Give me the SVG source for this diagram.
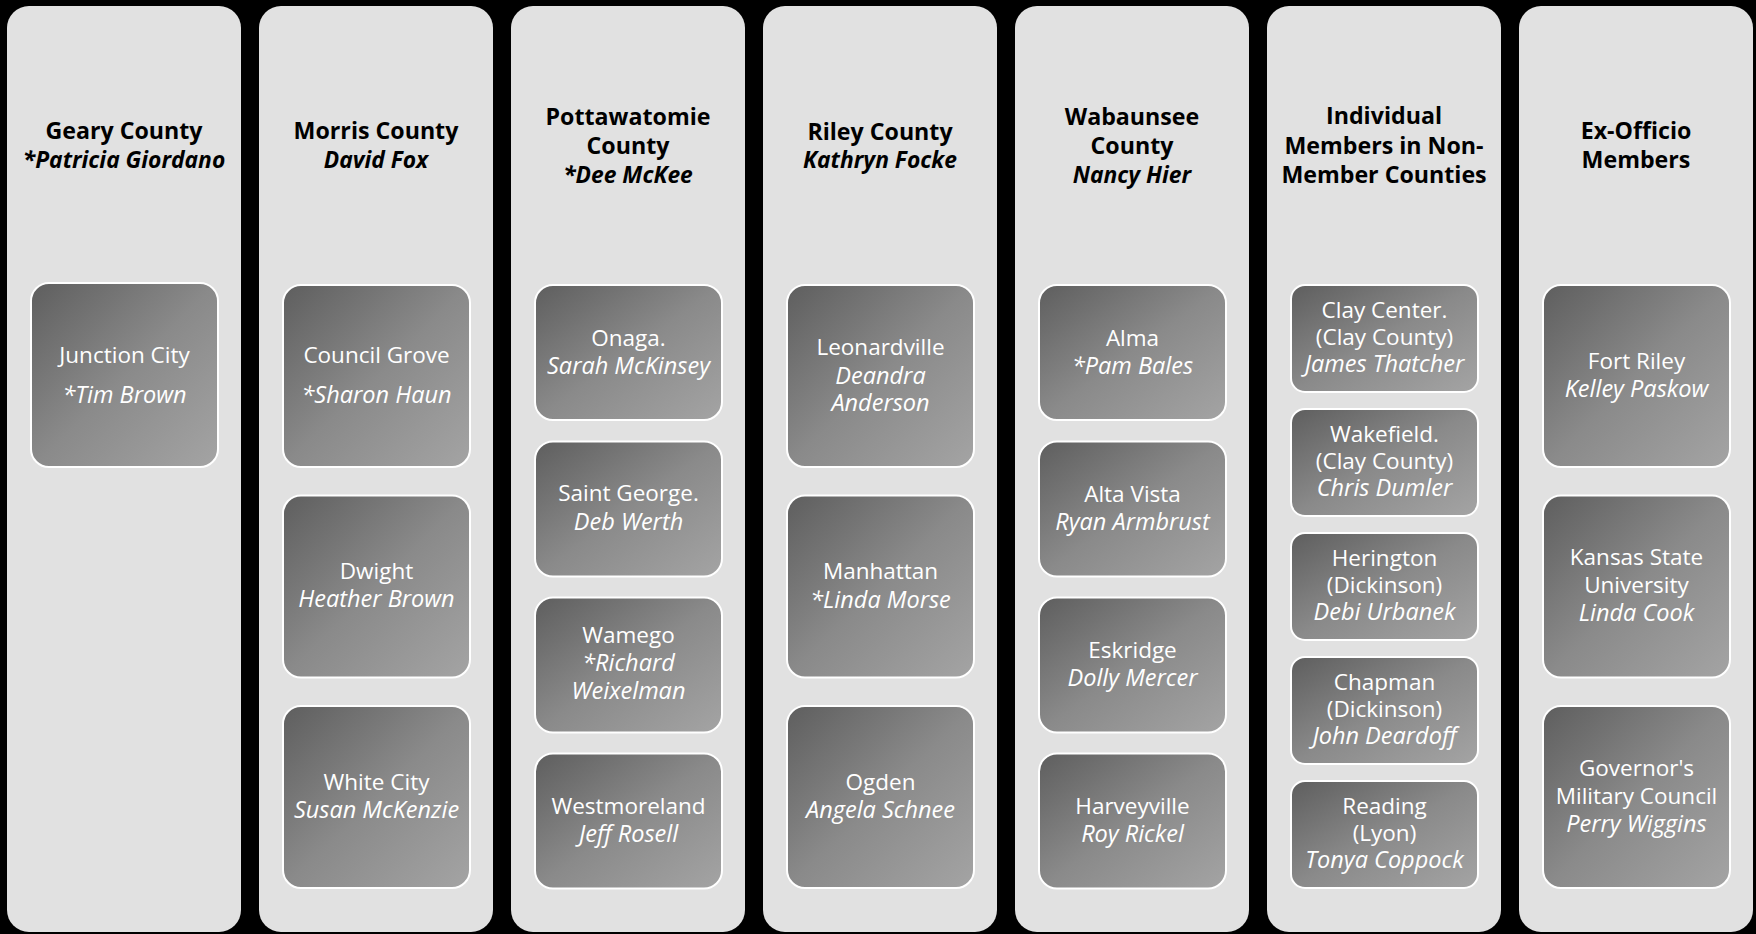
<svg xmlns="http://www.w3.org/2000/svg" width="1756" height="934" viewBox="0 0 1756 934">
<defs>
<linearGradient id="g" x1="0" y1="0" x2="1" y2="1">
<stop offset="0" stop-color="#5e5e5e"/>
<stop offset="0.5" stop-color="#8a8a8a"/>
<stop offset="1" stop-color="#a4a4a4"/>
</linearGradient>
</defs>
<style>
.col{fill:#e1e1e1}
.box{fill:url(#g);stroke:#ffffff;stroke-width:2}
.h{font-family:"Open Sans","Noto Sans",sans-serif;font-size:23.2px;font-weight:bold;fill:#000;text-anchor:middle}
.h.i{font-size:22.8px}
.t{font-family:"Open Sans","Noto Sans",sans-serif;font-size:22.5px;fill:#fff;text-anchor:middle}
.i{font-style:italic}
.t.i{font-size:23.5px}
</style>
<rect width="1756" height="934" fill="#000"/>

<g id="geary">
<rect class="col" x="7" y="6" width="234" height="926" rx="22"/>
<text class="h" x="124" y="139">Geary County</text>
<text class="h i" x="124" y="168">*Patricia Giordano</text>
<g id="junction-city">
<rect class="box" x="31" y="283" width="187" height="184" rx="18"/>
<text class="t" x="124.5" y="363">Junction City</text>
<text class="t i" x="124.5" y="403">*Tim Brown</text>
</g>
</g>

<g id="morris">
<rect class="col" x="259" y="6" width="234" height="926" rx="22"/>
<text class="h" x="376" y="139">Morris County</text>
<text class="h i" x="376" y="168">David Fox</text>
<g id="council-grove">
<rect class="box" x="283" y="285" width="187" height="182" rx="18"/>
<text class="t" x="376.5" y="363">Council Grove</text>
<text class="t i" x="376.5" y="403">*Sharon Haun</text>
</g>
<g id="dwight">
<rect class="box" x="283" y="495.5" width="187" height="182" rx="18"/>
<text class="t" x="376.5" y="579">Dwight</text>
<text class="t i" x="376.5" y="607">Heather Brown</text>
</g>
<g id="white-city">
<rect class="box" x="283" y="706" width="187" height="182" rx="18"/>
<text class="t" x="376.5" y="790">White City</text>
<text class="t i" x="376.5" y="818">Susan McKenzie</text>
</g>
</g>

<g id="pottawatomie">
<rect class="col" x="511" y="6" width="234" height="926" rx="22"/>
<text class="h" x="628" y="125">Pottawatomie</text>
<text class="h" x="628" y="154">County</text>
<text class="h i" x="628" y="183">*Dee McKee</text>
<g id="onaga">
<rect class="box" x="535" y="285" width="187" height="135" rx="18"/>
<text class="t" x="628.5" y="346">Onaga.</text>
<text class="t i" x="628.5" y="374">Sarah McKinsey</text>
</g>
<g id="saint-george">
<rect class="box" x="535" y="441.5" width="187" height="135" rx="18"/>
<text class="t" x="628.5" y="501">Saint George.</text>
<text class="t i" x="628.5" y="530">Deb Werth</text>
</g>
<g id="wamego">
<rect class="box" x="535" y="597.5" width="187" height="135" rx="18"/>
<text class="t" x="628.5" y="643">Wamego</text>
<text class="t i" x="628.5" y="671">*Richard</text>
<text class="t i" x="628.5" y="699">Weixelman</text>
</g>
<g id="westmoreland">
<rect class="box" x="535" y="753.5" width="187" height="135" rx="18"/>
<text class="t" x="628.5" y="814">Westmoreland</text>
<text class="t i" x="628.5" y="842">Jeff Rosell</text>
</g>
</g>

<g id="riley">
<rect class="col" x="763" y="6" width="234" height="926" rx="22"/>
<text class="h" x="880" y="140">Riley County</text>
<text class="h i" x="880" y="168">Kathryn Focke</text>
<g id="leonardville">
<rect class="box" x="787" y="285" width="187" height="182" rx="18"/>
<text class="t" x="880.5" y="355">Leonardville</text>
<text class="t i" x="880.5" y="384">Deandra</text>
<text class="t i" x="880.5" y="411">Anderson</text>
</g>
<g id="manhattan">
<rect class="box" x="787" y="495.5" width="187" height="182" rx="18"/>
<text class="t" x="880.5" y="579">Manhattan</text>
<text class="t i" x="880.5" y="608">*Linda Morse</text>
</g>
<g id="ogden">
<rect class="box" x="787" y="706" width="187" height="182" rx="18"/>
<text class="t" x="880.5" y="790">Ogden</text>
<text class="t i" x="880.5" y="818">Angela Schnee</text>
</g>
</g>

<g id="wabaunsee">
<rect class="col" x="1015" y="6" width="234" height="926" rx="22"/>
<text class="h" x="1132" y="125">Wabaunsee</text>
<text class="h" x="1132" y="154">County</text>
<text class="h i" x="1132" y="183">Nancy Hier</text>
<g id="alma">
<rect class="box" x="1039" y="285" width="187" height="135" rx="18"/>
<text class="t" x="1132.5" y="346">Alma</text>
<text class="t i" x="1132.5" y="374">*Pam Bales</text>
</g>
<g id="alta-vista">
<rect class="box" x="1039" y="441.5" width="187" height="135" rx="18"/>
<text class="t" x="1132.5" y="502">Alta Vista</text>
<text class="t i" x="1132.5" y="530">Ryan Armbrust</text>
</g>
<g id="eskridge">
<rect class="box" x="1039" y="597.5" width="187" height="135" rx="18"/>
<text class="t" x="1132.5" y="658">Eskridge</text>
<text class="t i" x="1132.5" y="686">Dolly Mercer</text>
</g>
<g id="harveyville">
<rect class="box" x="1039" y="753.5" width="187" height="135" rx="18"/>
<text class="t" x="1132.5" y="814">Harveyville</text>
<text class="t i" x="1132.5" y="842">Roy Rickel</text>
</g>
</g>

<g id="individual">
<rect class="col" x="1267" y="6" width="234" height="926" rx="22"/>
<text class="h" x="1384" y="124">Individual</text>
<text class="h" x="1384" y="153.5">Members in Non-</text>
<text class="h" x="1384" y="183">Member Counties</text>
<g id="clay-center">
<rect class="box" x="1291" y="285" width="187" height="107" rx="14"/>
<text class="t" x="1384.5" y="318">Clay Center.</text>
<text class="t" x="1384.5" y="345">(Clay County)</text>
<text class="t i" x="1384.5" y="372">James Thatcher</text>
</g>
<g id="wakefield">
<rect class="box" x="1291" y="409" width="187" height="107" rx="14"/>
<text class="t" x="1384.5" y="442">Wakefield.</text>
<text class="t" x="1384.5" y="469">(Clay County)</text>
<text class="t i" x="1384.5" y="496">Chris Dumler</text>
</g>
<g id="herington">
<rect class="box" x="1291" y="533" width="187" height="107" rx="14"/>
<text class="t" x="1384.5" y="566">Herington</text>
<text class="t" x="1384.5" y="593">(Dickinson)</text>
<text class="t i" x="1384.5" y="620">Debi Urbanek</text>
</g>
<g id="chapman">
<rect class="box" x="1291" y="657" width="187" height="107" rx="14"/>
<text class="t" x="1384.5" y="690">Chapman</text>
<text class="t" x="1384.5" y="717">(Dickinson)</text>
<text class="t i" x="1384.5" y="744">John Deardoff</text>
</g>
<g id="reading">
<rect class="box" x="1291" y="781" width="187" height="107" rx="14"/>
<text class="t" x="1384.5" y="814">Reading</text>
<text class="t" x="1384.5" y="841">(Lyon)</text>
<text class="t i" x="1384.5" y="868">Tonya Coppock</text>
</g>
</g>

<g id="ex-officio">
<rect class="col" x="1519" y="6" width="234" height="926" rx="22"/>
<text class="h" x="1636" y="139">Ex-Officio</text>
<text class="h" x="1636" y="168">Members</text>
<g id="fort-riley">
<rect class="box" x="1543" y="285" width="187" height="182" rx="18"/>
<text class="t" x="1636.5" y="369">Fort Riley</text>
<text class="t i" x="1636.5" y="397">Kelley Paskow</text>
</g>
<g id="ksu">
<rect class="box" x="1543" y="495.5" width="187" height="182" rx="18"/>
<text class="t" x="1636.5" y="565">Kansas State</text>
<text class="t" x="1636.5" y="593">University</text>
<text class="t i" x="1636.5" y="621">Linda Cook</text>
</g>
<g id="governors-council">
<rect class="box" x="1543" y="706" width="187" height="182" rx="18"/>
<text class="t" x="1636.5" y="776">Governor's</text>
<text class="t" x="1636.5" y="804">Military Council</text>
<text class="t i" x="1636.5" y="832">Perry Wiggins</text>
</g>
</g>

<g id="connectors"></g>
</svg>
